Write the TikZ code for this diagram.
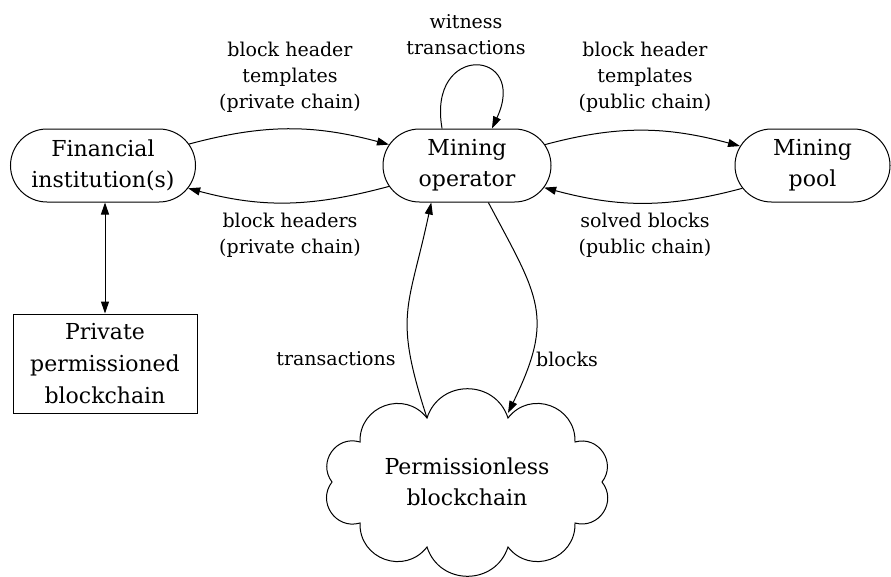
\documentclass[tikz,border=0pt]{standalone}
\usepackage{fontspec}
\setmainfont{DejaVu Serif}
\usetikzlibrary{shapes.misc,arrows.meta}
\begin{document}
\begin{tikzpicture}[x=1pt,y=1pt,
  every node/.style={font=\fontsize{22}{31}\selectfont, align=center},
  pill/.style={draw, rounded rectangle, line width=1pt, minimum height=73pt, inner sep=0pt},
  lbl/.style={font=\fontsize{19}{26}\selectfont, align=center},
  tip/.style={-{Triangle[length=12pt,width=8pt]}},
  conn/.style={line width=1pt, tip},
  puff/.style={bend right=72, looseness=1.3},
]
\useasboundingbox (0,0) rectangle (891,-576);
\node[pill, minimum width=185pt] (fi) at (103,-165.5) {Financial\\institution(s)};
\node[pill, minimum width=168pt] (mo) at (467,-165.5) {Mining\\operator};
\node[pill, minimum width=155pt] (mp) at (812.5,-165.5) {Mining\\pool};
\node[draw, line width=1pt, minimum width=184pt, minimum height=99pt, inner sep=0pt,
      font=\fontsize{22}{32}\selectfont] (pb) at (105,-363.5) {Private\\permissioned\\blockchain};
% cloud outline (cusp points)
\coordinate (c0) at (602,-482);
\coordinate (c1) at (575,-442);
\coordinate (c2) at (508,-418);
\coordinate (c3) at (427,-418);
\coordinate (c4) at (360,-442);
\coordinate (c5) at (332,-482);
\coordinate (c6) at (360,-523);
\coordinate (c7) at (427,-547);
\coordinate (c8) at (508,-547);
\coordinate (c9) at (575,-523);
\draw[line width=1pt] (c0) to[puff] (c1) to[puff] (c2) to[puff] (c3) to[puff] (c4)
  to[puff] (c5) to[puff] (c6) to[puff] (c7) to[puff] (c8) to[puff] (c9) to[puff] (c0);
\node (cloud) at (467,-482) {Permissionless\\blockchain};
\coordinate (btip) at (508,-413);

\node[lbl] (l1) at (290,-77) {block header\\templates\\(private chain)};
\node[lbl] (l2) at (290,-235) {block headers\\(private chain)};
\node[lbl] (l3) at (645,-77) {block header\\templates\\(public chain)};
\node[lbl] (l4) at (645,-235) {solved blocks\\(public chain)};
\node[lbl] (l5) at (466,-35) {witness\\transactions};
\node[lbl] (l6) at (336,-359) {transactions};
\node[lbl] (l7) at (567,-359) {blocks};

\draw[conn] (fi.14) to[out=15,in=165] (mo.165);
\draw[conn] (mo.195) to[out=195,in=-15] (fi.-15);
\draw[conn] (mo.15) to[out=15,in=165] (mp.165);
\draw[conn] (mp.198) to[out=195,in=-15] (mo.-16);
\draw[conn] (mo.124) to[out=100,in=65,distance=88pt] (mo.56);
\draw[conn] (c3) to[out=108,in=258,looseness=1.3] (mo.226);
\draw[conn] (mo.-60) to[out=-62,in=64,looseness=1.3] (btip);
\draw[line width=1pt, {Triangle[length=12pt,width=8pt]}-{Triangle[length=12pt,width=8pt]}]
  (pb.north |- fi.south) -- (pb.north);
\end{tikzpicture}
\end{document}
